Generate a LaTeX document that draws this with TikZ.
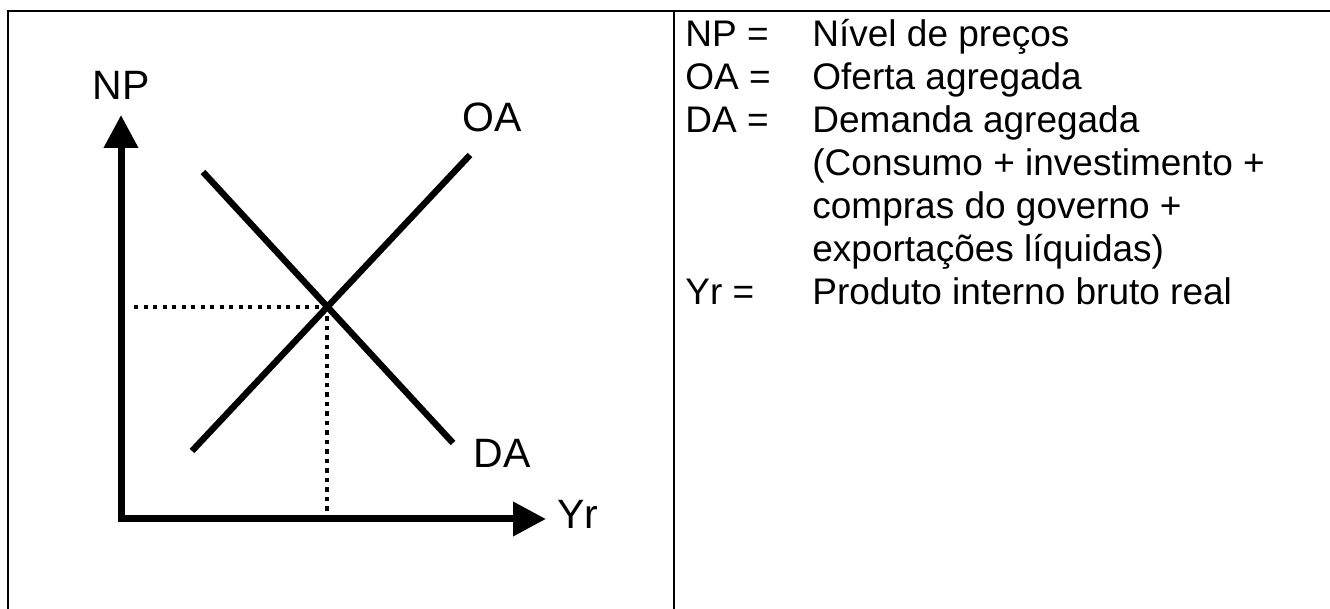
\documentclass[tikz,border=0pt]{standalone}
\usepackage{fontspec}
\setmainfont{Liberation Sans}
\usetikzlibrary{arrows.meta}

\begin{document}
\begin{tikzpicture}[x=0.5pt,y=-0.5pt,
	axis/.style={line width=3.5pt,{Triangle[length=16.5pt,width=16.5pt]}-{Triangle[length=16.5pt,width=16.5pt]}},
	curve/.style={line width=3.2pt},
	guide/.style={line width=2pt,dash pattern=on 2.2pt off 2.55pt},
	lbl/.style={font=\fontsize{20.5}{24}\selectfont,inner sep=0pt,anchor=base west},
	key/.style={font=\fontsize{18.5}{22}\selectfont,inner sep=0pt,anchor=base west}]
	\useasboundingbox (0,0) rectangle (1330,609);

	% table frame
	\draw[line width=1.1pt] (8,609) -- (8,11) -- (1330,11);
	\draw[line width=1.1pt] (674,11) -- (674,609);

	% graph
	\coordinate (o)  at (121,519);
	\coordinate (yt) at (121,115);
	\coordinate (xt) at (546,519);
	\coordinate (oa1) at (192,451);
	\coordinate (oa2) at (470,155);
	\coordinate (da1) at (203,172);
	\coordinate (da2) at (453,443);
	\coordinate (eq)  at (327,307);
	\coordinate (eqy) at (134,307);
	\coordinate (eqx) at (327,519);

	\node[lbl,anchor=base] (np) at (121,100) {NP};
	\node[lbl] (yr) at (557,529) {Yr};
	\node[lbl] (oa) at (462,132) {OA};
	\node[lbl] (da) at (473,468) {DA};

	\draw[axis] (yt) -- (o) -- (xt);
	\draw[curve] (oa1) -- (oa2);
	\draw[curve] (da1) -- (da2);
	\draw[guide] (eqy) -- (eq);
	\draw[guide] (eq) -- (eqx);

	% legend
	\node[key] (knp) at (685,47)  {NP =};
	\node[key] (dnp) at (812,47)  {Nível de preços};
	\node[key] (koa) at (685,90)  {OA =};
	\node[key] (doa) at (812,90)  {Oferta agregada};
	\node[key] (kda) at (685,133) {DA =};
	\node[key] (dda) at (812,133) {Demanda agregada};
	\node[key] (dc1) at (812,176) {(Consumo + investimento +};
	\node[key] (dc2) at (812,219) {compras do governo +};
	\node[key] (dc3) at (812,262) {exportações líquidas)};
	\node[key] (kyr) at (685,305) {Yr =};
	\node[key] (dyr) at (812,305) {Produto interno bruto real};
\end{tikzpicture}
\end{document}
